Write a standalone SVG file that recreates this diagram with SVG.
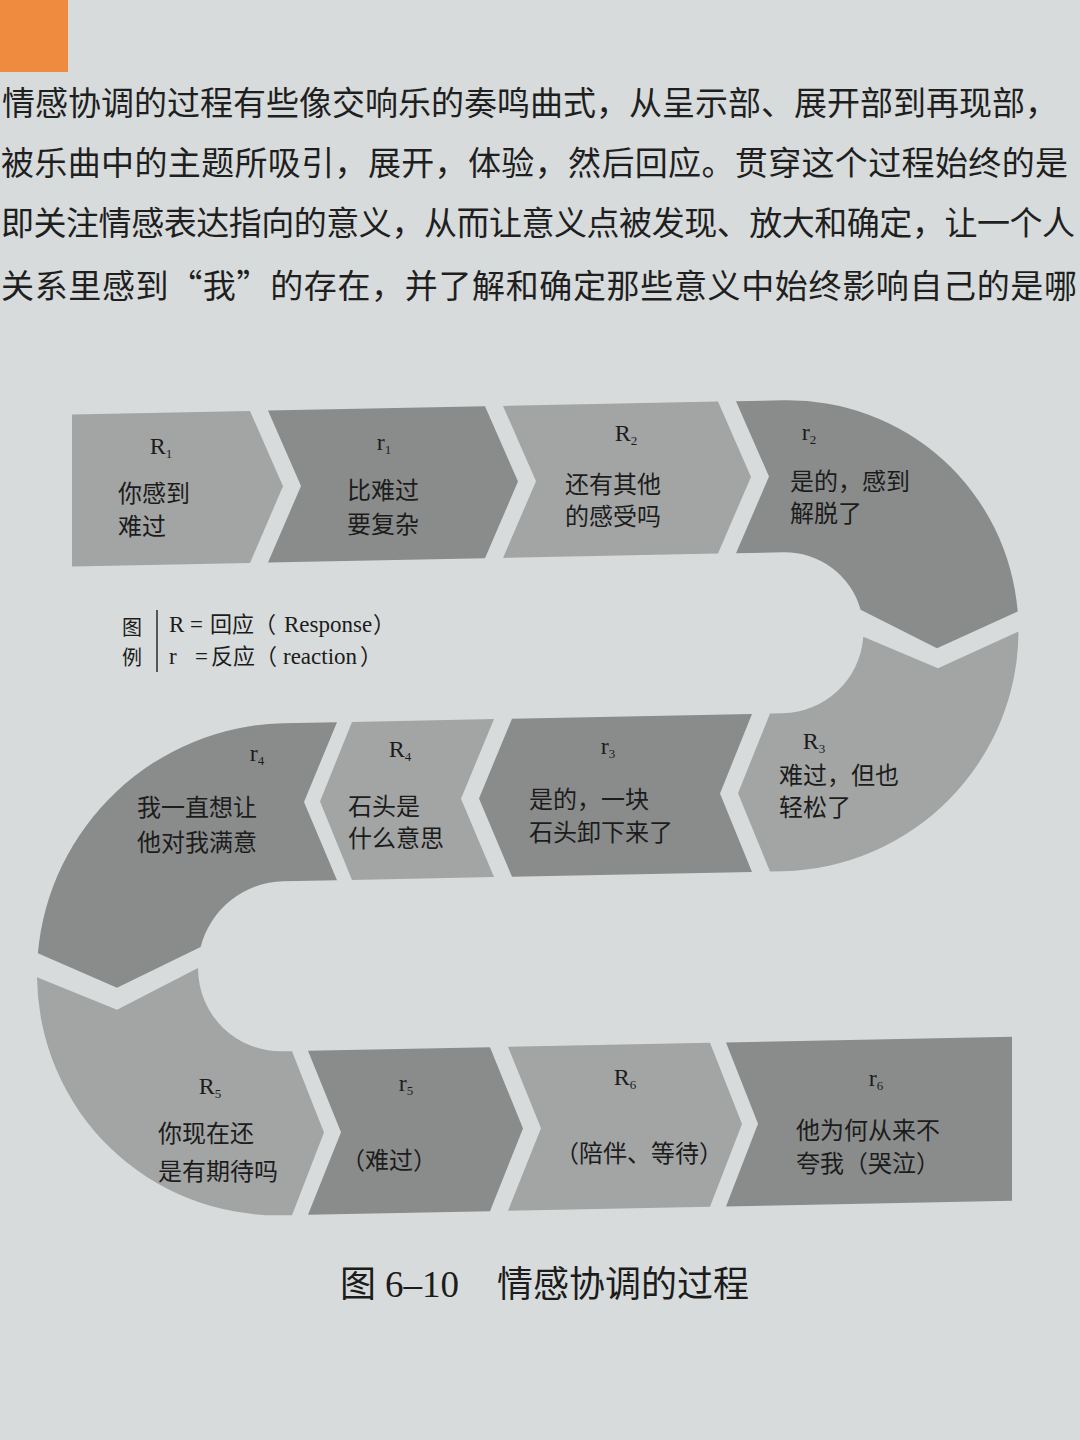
<svg xmlns="http://www.w3.org/2000/svg" width="1080" height="1440" viewBox="0 0 1080 1440">
<style>
.bg{fill:#d7dbdb}
.R{fill:#a3a5a5}
.r{fill:#8a8c8c}
.lb{font-family:"Noto Sans CJK SC","Noto Sans CJK JP",sans-serif;font-size:24px;fill:#1c1c1c}
.sym{font-family:"Liberation Serif",serif;font-size:24px;fill:#1c1c1c;text-anchor:middle}
.sub{font-size:13px}
.body{font-family:"Noto Sans CJK SC","Noto Sans CJK JP",sans-serif;font-size:33px;fill:#1f1f1f}
.ser{font-family:"Liberation Serif",serif;font-size:23px;fill:#1c1c1c}
.cjk{font-family:"Noto Sans CJK SC","Noto Sans CJK JP",sans-serif;font-size:22px;fill:#1c1c1c}
.leg{font-family:"Noto Sans CJK SC","Noto Sans CJK JP",sans-serif;font-size:20px;fill:#1c1c1c}
</style>
<rect class="bg" x="0" y="0" width="1080" height="1440"/>
<rect x="0" y="0" width="68" height="72" fill="#ee8b3e"/>

<g id="body-text">
<text class="body" x="2" y="115" textLength="1056" lengthAdjust="spacing">情感协调的过程有些像交响乐的奏鸣曲式，从呈示部、展开部到再现部，</text>
<text class="body" x="1" y="175" textLength="1067" lengthAdjust="spacing">被乐曲中的主题所吸引，展开，体验，然后回应。贯穿这个过程始终的是</text>
<text class="body" x="1" y="235" textLength="1074" lengthAdjust="spacing">即关注情感表达指向的意义，从而让意义点被发现、放大和确定，让一个人</text>
<text class="body" x="1" y="298" textLength="1076" lengthAdjust="spacing">关系里感到“我”的存在，并了解和确定那些意义中始终影响自己的是哪</text>
</g>

<g id="connectors"></g>

<g id="R1">
<path class="R" transform="skewY(-1.15)" d="M72,416 H250 L283,492 L250,568 H72 Z"/>
<text class="sym" x="161" y="454">R<tspan class="sub" dy="4">1</tspan></text>
<text class="lb" x="118" y="502">你感到</text>
<text class="lb" x="118" y="535">难过</text>
</g>

<g id="r1">
<path class="r" transform="skewY(-1.15)" d="M268,416 H485 L518,492 L485,568 H268 L301,492 Z"/>
<text class="sym" x="384" y="450">r<tspan class="sub" dy="4">1</tspan></text>
<text class="lb" x="347" y="499">比难过</text>
<text class="lb" x="347" y="533">要复杂</text>
</g>

<g id="R2">
<path class="R" transform="skewY(-1.15)" d="M503,416 H718 L751,492 L718,568 H503 L536,492 Z"/>
<text class="sym" x="626" y="441">R<tspan class="sub" dy="4">2</tspan></text>
<text class="lb" x="565" y="493">还有其他</text>
<text class="lb" x="565" y="525">的感受吗</text>
</g>

<g id="r2">
<path class="r" transform="skewY(-1.15)" d="M736,416 H783 A235.5,235.5 0 0 1 1017.7,632 L937,667 L860.6,627 A80.5,80.5 0 0 0 783,568 H736 L769,492 Z"/>
<text class="sym" x="809" y="440">r<tspan class="sub" dy="4">2</tspan></text>
<text class="lb" x="790" y="490">是的，感到</text>
<text class="lb" x="790" y="522">解脱了</text>
</g>

<g id="R3">
<path class="R" transform="skewY(-1.15)" d="M1018.5,652 A235.5,235.5 0 0 1 783,887 H770 L738,808 L770,729 H783 A80.5,80.5 0 0 0 863.3,654 L938,687 Z"/>
<text class="sym" x="814" y="749">R<tspan class="sub" dy="4">3</tspan></text>
<text class="lb" x="779" y="784">难过，但也</text>
<text class="lb" x="779" y="816">轻松了</text>
</g>

<g id="r3">
<path class="r" transform="skewY(-1.15)" d="M752,729 L720,808 L752,887 H512 L479,808 L512,729 Z"/>
<text class="sym" x="608" y="754">r<tspan class="sub" dy="4">3</tspan></text>
<text class="lb" x="529" y="808">是的，一块</text>
<text class="lb" x="529" y="841">石头卸下来了</text>
</g>

<g id="R4">
<path class="R" transform="skewY(-1.15)" d="M494,729 L461,808 L494,887 H352 L320,808 L352,729 Z"/>
<text class="sym" x="400" y="757">R<tspan class="sub" dy="4">4</tspan></text>
<text class="lb" x="348" y="815">石头是</text>
<text class="lb" x="348" y="847">什么意思</text>
</g>

<g id="r4">
<path class="r" transform="skewY(-1.15)" d="M337,729 H283 A246,246 0 0 0 37.9,954 L117,990 L200.6,951 A85,85 0 0 1 283,887 H337 L304,808 Z"/>
<text class="sym" x="257" y="761">r<tspan class="sub" dy="4">4</tspan></text>
<text class="lb" x="137" y="816">我一直想让</text>
<text class="lb" x="137" y="851">他对我满意</text>
</g>

<g id="R5">
<path class="R" transform="skewY(-1.15)" d="M37,978 A246,246 0 0 0 283,1221 H292 L324,1139 L292,1057 H283 A85,85 0 0 1 198,972 L117,1012 Z"/>
<text class="sym" x="210" y="1094">R<tspan class="sub" dy="4">5</tspan></text>
<text class="lb" x="158" y="1142">你现在还</text>
<text class="lb" x="158" y="1180">是有期待吗</text>
</g>

<g id="r5">
<path class="r" transform="skewY(-1.15)" d="M308,1057 H490 L523,1139 L490,1221 H308 L341,1139 Z"/>
<text class="sym" x="406" y="1091">r<tspan class="sub" dy="4">5</tspan></text>
<text class="lb" x="341" y="1169">（难过）</text>
</g>

<g id="R6">
<path class="R" transform="skewY(-1.15)" d="M508,1057 H710 L742,1139 L710,1221 H508 L541,1139 Z"/>
<text class="sym" x="625" y="1085">R<tspan class="sub" dy="4">6</tspan></text>
<text class="lb" x="555" y="1162">（陪伴、等待）</text>
</g>

<g id="r6">
<path class="r" transform="skewY(-1.15)" d="M726,1057 H1012 V1221 H726 L758,1139 Z"/>
<text class="sym" x="876" y="1086">r<tspan class="sub" dy="4">6</tspan></text>
<text class="lb" x="796" y="1139">他为何从来不</text>
<text class="lb" x="796" y="1172">夸我（哭泣）</text>
</g>

<g id="legend">
<text class="leg" x="122" y="635">图</text>
<text class="leg" x="122" y="665">例</text>
<line x1="157" y1="610" x2="157" y2="672" stroke="#2a2a2a" stroke-width="1.5"/>
<text y="632"><tspan class="ser" x="169">R</tspan><tspan class="ser" x="190">=</tspan><tspan class="cjk" x="210">回应（</tspan><tspan class="ser" x="284">Response</tspan><tspan class="cjk" x="373">）</tspan></text>
<text y="664"><tspan class="ser" x="169">r</tspan><tspan class="ser" x="195">=</tspan><tspan class="cjk" x="211">反应（</tspan><tspan class="ser" x="283">reaction</tspan><tspan class="cjk" x="360">）</tspan></text>
</g>

<g id="caption">
<text y="1297"><tspan font-family="Noto Sans CJK SC, sans-serif" font-size="36" fill="#1c1c1c" x="340">图</tspan><tspan font-family="Liberation Serif, serif" font-size="37" fill="#1c1c1c" x="385">6–10</tspan><tspan font-family="Noto Sans CJK SC, sans-serif" font-size="36" fill="#1c1c1c" x="497">情感协调的过程</tspan></text>
</g>
</svg>
